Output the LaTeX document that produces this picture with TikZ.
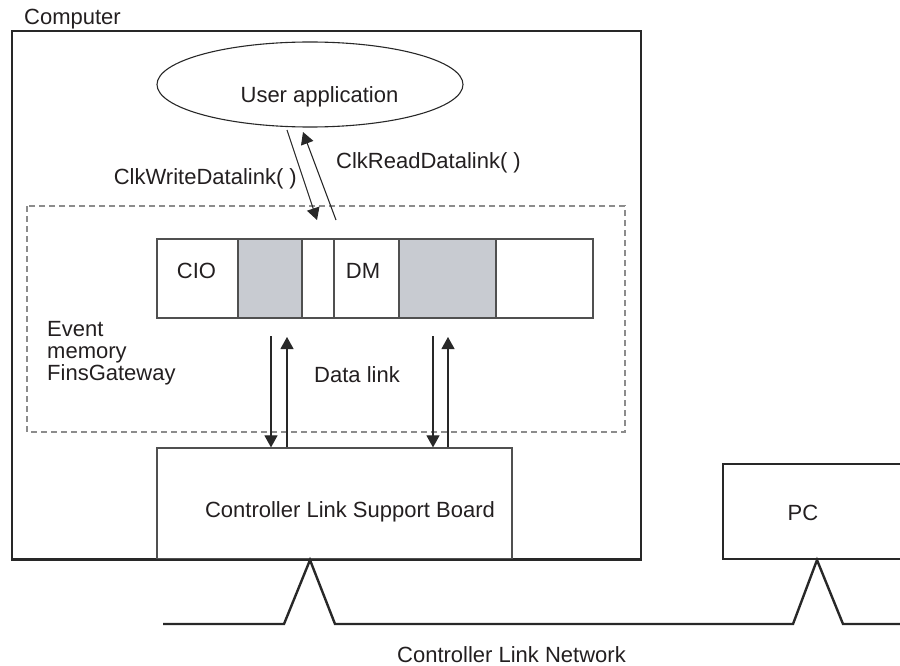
\documentclass[tikz,border=0pt]{standalone}
\usepackage{fontspec}
\setmainfont{Liberation Sans}
\usetikzlibrary{arrows.meta,shapes.geometric}
\definecolor{txt}{RGB}{35,31,32}
\definecolor{ln}{RGB}{40,40,40}
\definecolor{thinln}{RGB}{80,80,80}
\definecolor{dashcol}{RGB}{140,140,140}
\definecolor{cellgray}{RGB}{200,203,209}
\begin{document}
\begin{tikzpicture}[x=1pt,y=-1pt,
  lbl/.style={inner sep=0pt, text=txt, font=\fontsize{22}{22}\selectfont},
  thickbox/.style={draw=ln, line width=2.4pt, inner sep=0pt, minimum width=0pt, minimum height=0pt},
  thinbox/.style={draw=thinln, line width=1.2pt, inner sep=0pt},
  cell/.style={draw=thinln, line width=1.2pt, inner sep=0pt, minimum height=79pt},
  dashbox/.style={draw=dashcol, line width=1.2pt, dash pattern=on 6pt off 4pt},
  flow/.style={draw=ln, line width=1.1pt, -{Triangle[length=12pt,width=13pt]}},
  net/.style={draw=ln, line width=2.4pt, line join=miter}
]
\useasboundingbox (0,0) rectangle (900,666);

% Computer box
\node[thickbox, minimum width=629pt, minimum height=528pt] (computer) at (326.5,295) {};
\node[lbl, anchor=base west] (computerlbl) at (24,25) {Computer};

% user application
\node[draw=ln, line width=1.1pt, ellipse, inner sep=0pt, minimum width=306pt, minimum height=85pt] (app) at (310,84.5) {};
\node[lbl, anchor=base] (apptxt) at (319.5,103) {User application};

% dashed event memory area
\draw[dashbox] (27,206) rectangle (625,432);
\coordinate (dashtl) at (27,206);
\node[lbl, anchor=north west, align=left] (evmem) at (47,321.5) {Event\\memory\\FinsGateway};

% memory bar cells
\node[cell, minimum width=81pt] (cio) at (197.5,278.5) {};
\node[cell, fill=cellgray, minimum width=64pt] (g1) at (270,278.5) {};
\node[cell, minimum width=32pt] (gap) at (318,278.5) {};
\node[cell, minimum width=65pt] (dm) at (366.5,278.5) {};
\node[cell, fill=cellgray, minimum width=97pt] (g2) at (447.5,278.5) {};
\node[cell, minimum width=97pt] (rest) at (544.5,278.5) {};
\node[lbl, anchor=base] (ciotxt) at (196.5,278) {CIO};
\node[lbl, anchor=base] (dmtxt) at (363,278) {DM};

% API calls
\coordinate (wA) at (287,130);
\coordinate (wB) at (317,220);
\coordinate (rA) at (336,220);
\coordinate (rB) at (303,132);
\draw[flow] (wA) -- (wB);
\draw[flow] (rA) -- (rB);
\node[lbl, anchor=base east] (wlbl) at (297,185) {ClkWriteDatalink( )};
\node[lbl, anchor=base west] (rlbl) at (336,168) {ClkReadDatalink( )};

% support board
\node[thinbox, minimum width=355pt, minimum height=111pt] (board) at (334.5,503.5) {};
\node[lbl, anchor=base] (boardtxt) at (350,517) {Controller Link Support Board};
\draw[ln, line width=2.4pt] (computer.south west) -- (computer.south east);

% data link arrows
\coordinate (d1a) at (271,336);
\coordinate (u1b) at (287,337);
\coordinate (d2a) at (433,336);
\coordinate (u2b) at (448,337);
\draw[flow] (d1a) -- (d1a |- board.north);
\draw[flow] (u1b |- board.north) -- (u1b);
\draw[flow] (d2a) -- (d2a |- board.north);
\draw[flow] (u2b |- board.north) -- (u2b);
\node[lbl, anchor=base] (dltxt) at (357,382) {Data link};

% PC
\coordinate (pctr) at (902,464);
\coordinate (pcbr) at (902,559);
\draw[ln, line width=2.4pt] (pctr) -- (723,464) -- (723,559) -- (pcbr);
\node[lbl, anchor=base] (pctxt) at (803,520) {PC};

% network
\coordinate (n0) at (163,624);
\coordinate (n1) at (284,624);
\coordinate (apex1) at (310,560);
\coordinate (n2) at (335,624);
\coordinate (n3) at (793,624);
\coordinate (apex2) at (817,560);
\coordinate (n4) at (843,624);
\coordinate (n5) at (902,624);
\draw[net] (n0) -- (n1) -- (apex1) -- (n2) -- (n3) -- (apex2) -- (n4) -- (n5);
\node[lbl, anchor=base] (nettxt) at (511.5,662) {Controller Link Network};
\end{tikzpicture}
\end{document}
